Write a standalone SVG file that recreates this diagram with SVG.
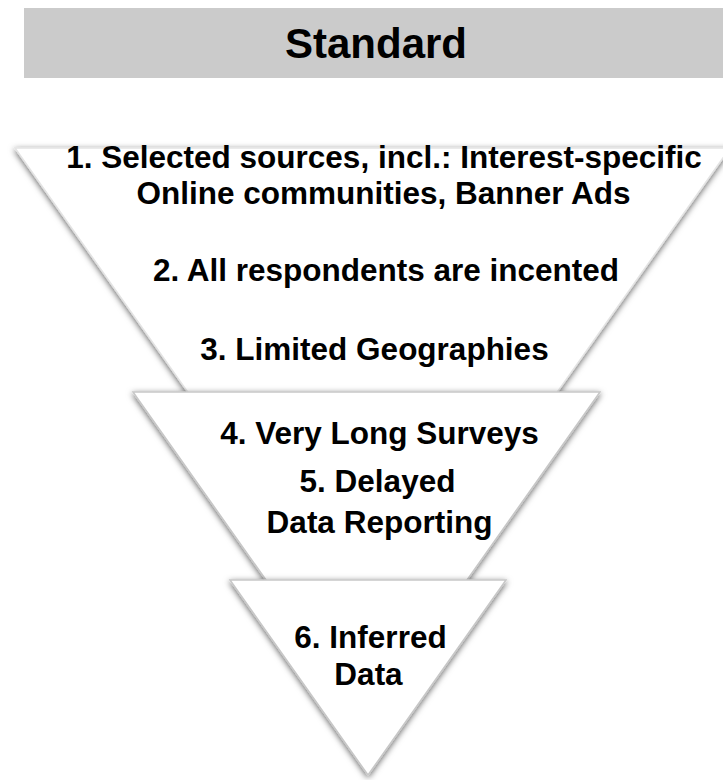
<svg xmlns="http://www.w3.org/2000/svg" width="723" height="780" viewBox="0 0 723 780">
  <defs>
    <filter id="shadow" x="-10%" y="-10%" width="120%" height="120%">
      <feDropShadow dx="0" dy="2" stdDeviation="3" flood-color="#000000" flood-opacity="0.6"/>
    </filter>
  </defs>
  <style>
    .hdr { fill: #cbcbcb; }
    .title { font-family: "Liberation Sans", Arial, sans-serif; font-weight: bold; font-size: 42px; fill: #000; text-anchor: middle; }
    .tri { fill: #ffffff; stroke: #c8c8c8; stroke-width: 1.5; filter: url(#shadow); }
    .lbl { font-family: "Liberation Sans", Arial, sans-serif; font-weight: bold; font-size: 31.5px; fill: #000; text-anchor: middle; }
  </style>
  <rect width="723" height="780" fill="#ffffff"/>
  <g id="header">
    <rect class="hdr" x="24" y="8" width="699" height="70"/>
    <text class="title" x="376" y="58">Standard</text>
  </g>
  <g id="tier1">
    <polygon class="tri" points="15,148 730,148 372.5,653" style="stroke:#e4e4e4"/>
    <text class="lbl" x="384" y="168">1. Selected sources, incl.: Interest-specific</text>
    <text class="lbl" x="383.5" y="204">Online communities, Banner Ads</text>
    <text class="lbl" x="386" y="281">2. All respondents are incented</text>
    <text class="lbl" x="374.5" y="360">3. Limited Geographies</text>
  </g>
  <g id="tier2">
    <polygon class="tri" points="133,392 600,392 366.5,722"/>
    <text class="lbl" x="379.5" y="444">4. Very Long Surveys</text>
    <text class="lbl" x="377.5" y="492">5. Delayed</text>
    <text class="lbl" x="379.5" y="533">Data Reporting</text>
  </g>
  <g id="tier3">
    <polygon class="tri" points="230,580 506,580 368,775"/>
    <text class="lbl" x="370.5" y="648">6. Inferred</text>
    <text class="lbl" x="368.5" y="685">Data</text>
  </g>
  <g id="connectors"></g>
</svg>
